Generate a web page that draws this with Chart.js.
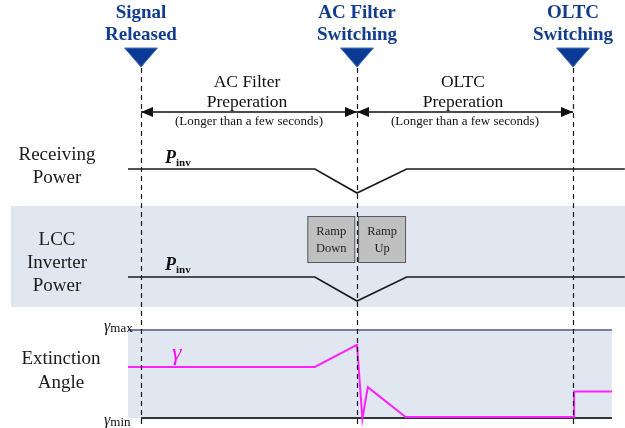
<!DOCTYPE html>
<html>
<head>
<meta charset="utf-8">
<script src="https://cdn.jsdelivr.net/npm/chart.js"></script>
<style>
  html, body { margin: 0; padding: 0; background: #fff; }
  #wrap { width: 625px; height: 428px; }
</style>
</head>
<body>
<div id="wrap"><canvas id="chart" width="625" height="428"></canvas></div>
<script>
// events on the time axis (arbitrary units)
const eventTimes = [0, 10, 20];
const eventTitles = [['Signal', 'Released'], ['AC Filter', 'Switching'], ['OLTC', 'Switching']];
const phaseLabels = [['AC Filter', 'Preperation'], ['OLTC', 'Preperation']];
const phaseNote = '(Longer than a few seconds)';
const panelLabels = [['Receiving', 'Power'], ['LCC', 'Inverter', 'Power'], ['Extinction', 'Angle']];

// receiving / inverter power (per unit)
const powerTime = [-0.6, 8.05, 10, 12.3, 22.4];
const receivingPower = [1, 1, 0.8, 1, 1];
const inverterPower = [1, 1, 0.8, 1, 1];

// extinction angle (deg)
const gammaTime = [-0.6, 8.05, 10, 10.25, 10.5, 12.25, 20.05, 20.05, 21.8];
const gammaValues = [20.8, 20.8, 23.3, 14.9, 18.5, 15.1, 15.1, 18.0, 18.0];
const gammaMax = 25;
const gammaMin = 15;
const gammaBandTime = [-0.6, 21.8];
const gammaMinTime = [0, 21.8];

// ramp blocks
const rampLabels = [['Ramp', 'Down'], ['Ramp', 'Up']];
const rampStart = [7.7, 10.05];
const rampEnd = [9.92, 12.27];

const W = 625, H = 428;
const serif = '"Liberation Serif", "Times New Roman", serif';

// helpers: build axis ranges so that two values land on two pixels
function spanX(v1, p1, v2, p2) {
    const k = (v2 - v1) / (p2 - p1);
    const min = v1 - p1 * k;
    return { min: min, max: min + W * k };
}
function spanY(v1, p1, v2, p2) {
    const k = (v1 - v2) / (p2 - p1);
    const max = v1 + p1 * k;
    return { min: max - H * k, max: max };
}

const pts = (xs, ys) => xs.map((x, i) => ({ x: x, y: ys[i] }));
const flat = (xs, v) => xs.map(x => ({ x: x, y: v }));

function lines(ctx, arr, x, y0, step) {
    arr.forEach((s, i) => ctx.fillText(s, x, y0 + i * step));
}

const timingPlugin = {
    id: 'timing',
    beforeDatasetsDraw(chart) {
        const ctx = chart.ctx;
        const xs = chart.scales.x;
        ctx.save();
        // LCC panel band
        ctx.fillStyle = '#e0e7f1';
        ctx.fillRect(11, 206, W - 11, 101);
        // ramp boxes
        rampLabels.forEach((lab, i) => {
            const x0 = xs.getPixelForValue(rampStart[i]);
            const x1 = xs.getPixelForValue(rampEnd[i]);
            ctx.fillStyle = '#c0c0c0';
            ctx.strokeStyle = '#5a5a5a';
            ctx.lineWidth = 1;
            ctx.fillRect(x0, 216, x1 - x0, 47);
            ctx.strokeRect(x0 + 0.5, 216.5, x1 - x0 - 1, 46);
            ctx.fillStyle = '#222';
            ctx.font = '12.5px ' + serif;
            ctx.textAlign = 'center';
            ctx.textBaseline = 'middle';
            lines(ctx, lab, (x0 + x1) / 2, 232, 17);
        });
        ctx.restore();
    },
    afterDatasetsDraw(chart) {
        const ctx = chart.ctx;
        const xs = chart.scales.x;
        const ex = eventTimes.map(t => xs.getPixelForValue(t));
        ctx.save();

        // dashed event lines
        ctx.strokeStyle = '#1a1a1a';
        ctx.lineWidth = 1.2;
        ctx.setLineDash([5, 4]);
        ex.forEach(x => {
            ctx.beginPath();
            ctx.moveTo(Math.round(x) + 0.5, 68);
            ctx.lineTo(Math.round(x) + 0.5, 428);
            ctx.stroke();
        });
        ctx.setLineDash([]);

        // triangles and titles
        ex.forEach((x, i) => {
            ctx.fillStyle = '#0b3a94';
            ctx.strokeStyle = '#4a78c4';
            ctx.lineWidth = 1;
            ctx.beginPath();
            ctx.moveTo(x - 16.5, 48);
            ctx.lineTo(x + 16.5, 48);
            ctx.lineTo(x, 67);
            ctx.closePath();
            ctx.fill();
            ctx.stroke();
            ctx.fillStyle = '#123c8c';
            ctx.font = 'bold 19px ' + serif;
            ctx.textAlign = 'center';
            ctx.textBaseline = 'middle';
            lines(ctx, eventTitles[i], x, 13, 22);
        });

        // phase arrows
        const ay = 112;
        ctx.strokeStyle = '#111';
        ctx.fillStyle = '#111';
        ctx.lineWidth = 1.3;
        ctx.beginPath();
        ctx.moveTo(ex[0], ay);
        ctx.lineTo(ex[2], ay);
        ctx.stroke();
        const head = (tipX, dir) => {
            ctx.beginPath();
            ctx.moveTo(tipX, ay);
            ctx.lineTo(tipX - dir * 12, ay - 5);
            ctx.lineTo(tipX - dir * 12, ay + 5);
            ctx.closePath();
            ctx.fill();
        };
        head(ex[0], -1);
        head(ex[1], 1);
        head(ex[1], -1);
        head(ex[2], 1);

        ctx.textAlign = 'center';
        ctx.textBaseline = 'middle';
        phaseLabels.forEach((lab, i) => {
            const cx = (ex[i] + ex[i + 1]) / 2 - 2;
            ctx.font = '17.5px ' + serif;
            lines(ctx, lab, cx, 82, 20);
            ctx.font = '13px ' + serif;
            ctx.fillText(phaseNote, cx + 2, 122);
        });

        // panel labels
        ctx.fillStyle = '#1a1a1a';
        ctx.font = '19px ' + serif;
        lines(ctx, panelLabels[0], 57, 155, 23);
        lines(ctx, panelLabels[1], 57, 240, 23);
        lines(ctx, panelLabels[2], 61, 359, 24);

        // P_inv labels
        const pinv = (x, y) => {
            ctx.textAlign = 'left';
            ctx.textBaseline = 'alphabetic';
            ctx.font = 'italic bold 18px ' + serif;
            ctx.fillStyle = '#111';
            ctx.fillText('P', x, y);
            const w = ctx.measureText('P').width;
            ctx.font = 'bold 11px ' + serif;
            ctx.fillText('inv', x + w, y + 3);
        };
        pinv(165, 163);
        pinv(165, 270);

        // gamma labels
        const glab = (x, y, sub) => {
            ctx.textAlign = 'left';
            ctx.textBaseline = 'alphabetic';
            ctx.fillStyle = '#111';
            ctx.font = 'italic 16px ' + serif;
            ctx.fillText('\u03b3', x, y);
            const w = ctx.measureText('\u03b3').width;
            ctx.font = '13px ' + serif;
            ctx.fillText(sub, x + w, y + 1);
        };
        glab(104, 331, 'max');
        glab(104, 425, 'min');

        ctx.fillStyle = '#ff00ff';
        ctx.font = 'italic 24px ' + serif;
        ctx.textAlign = 'left';
        ctx.fillText('\u03b3', 172, 360);

        ctx.restore();
    }
};

new Chart(document.getElementById('chart'), {
    type: 'line',
    data: {
        datasets: [
            {
                data: flat(gammaBandTime, gammaMax), yAxisID: 'yG', order: 10,
                borderColor: '#4d5a7c', borderWidth: 1.3,
                backgroundColor: '#e0e7f1', fill: { value: gammaMin }
            },
            {
                data: flat(gammaMinTime, gammaMin), yAxisID: 'yG', order: 9,
                borderColor: '#333', borderWidth: 2, fill: false
            },
            {
                data: pts(powerTime, receivingPower), yAxisID: 'yR', order: 1,
                borderColor: '#1a1a1a', borderWidth: 1.7, fill: false
            },
            {
                data: pts(powerTime, inverterPower), yAxisID: 'yL', order: 1,
                borderColor: '#1a1a1a', borderWidth: 1.7, fill: false
            },
            {
                data: pts(gammaTime, gammaValues), yAxisID: 'yG', order: 0,
                borderColor: '#ff22ff', borderWidth: 2, fill: false
            }
        ]
    },
    options: {
        responsive: false,
        animation: false,
        devicePixelRatio: 1,
        layout: { padding: 0 },
        plugins: { legend: { display: false }, tooltip: { enabled: false } },
        elements: { line: { tension: 0 }, point: { radius: 0 } },
        scales: {
            x: Object.assign({ type: 'linear', display: false }, spanX(0, 141, 20, 573)),
            yR: Object.assign({ type: 'linear', display: false }, spanY(1, 169, 0.8, 193)),
            yL: Object.assign({ type: 'linear', display: false }, spanY(1, 277, 0.8, 301)),
            yG: Object.assign({ type: 'linear', display: false }, spanY(gammaMax, 330, gammaMin, 418))
        }
    },
    plugins: [timingPlugin]
});
</script>
</body>
</html>
